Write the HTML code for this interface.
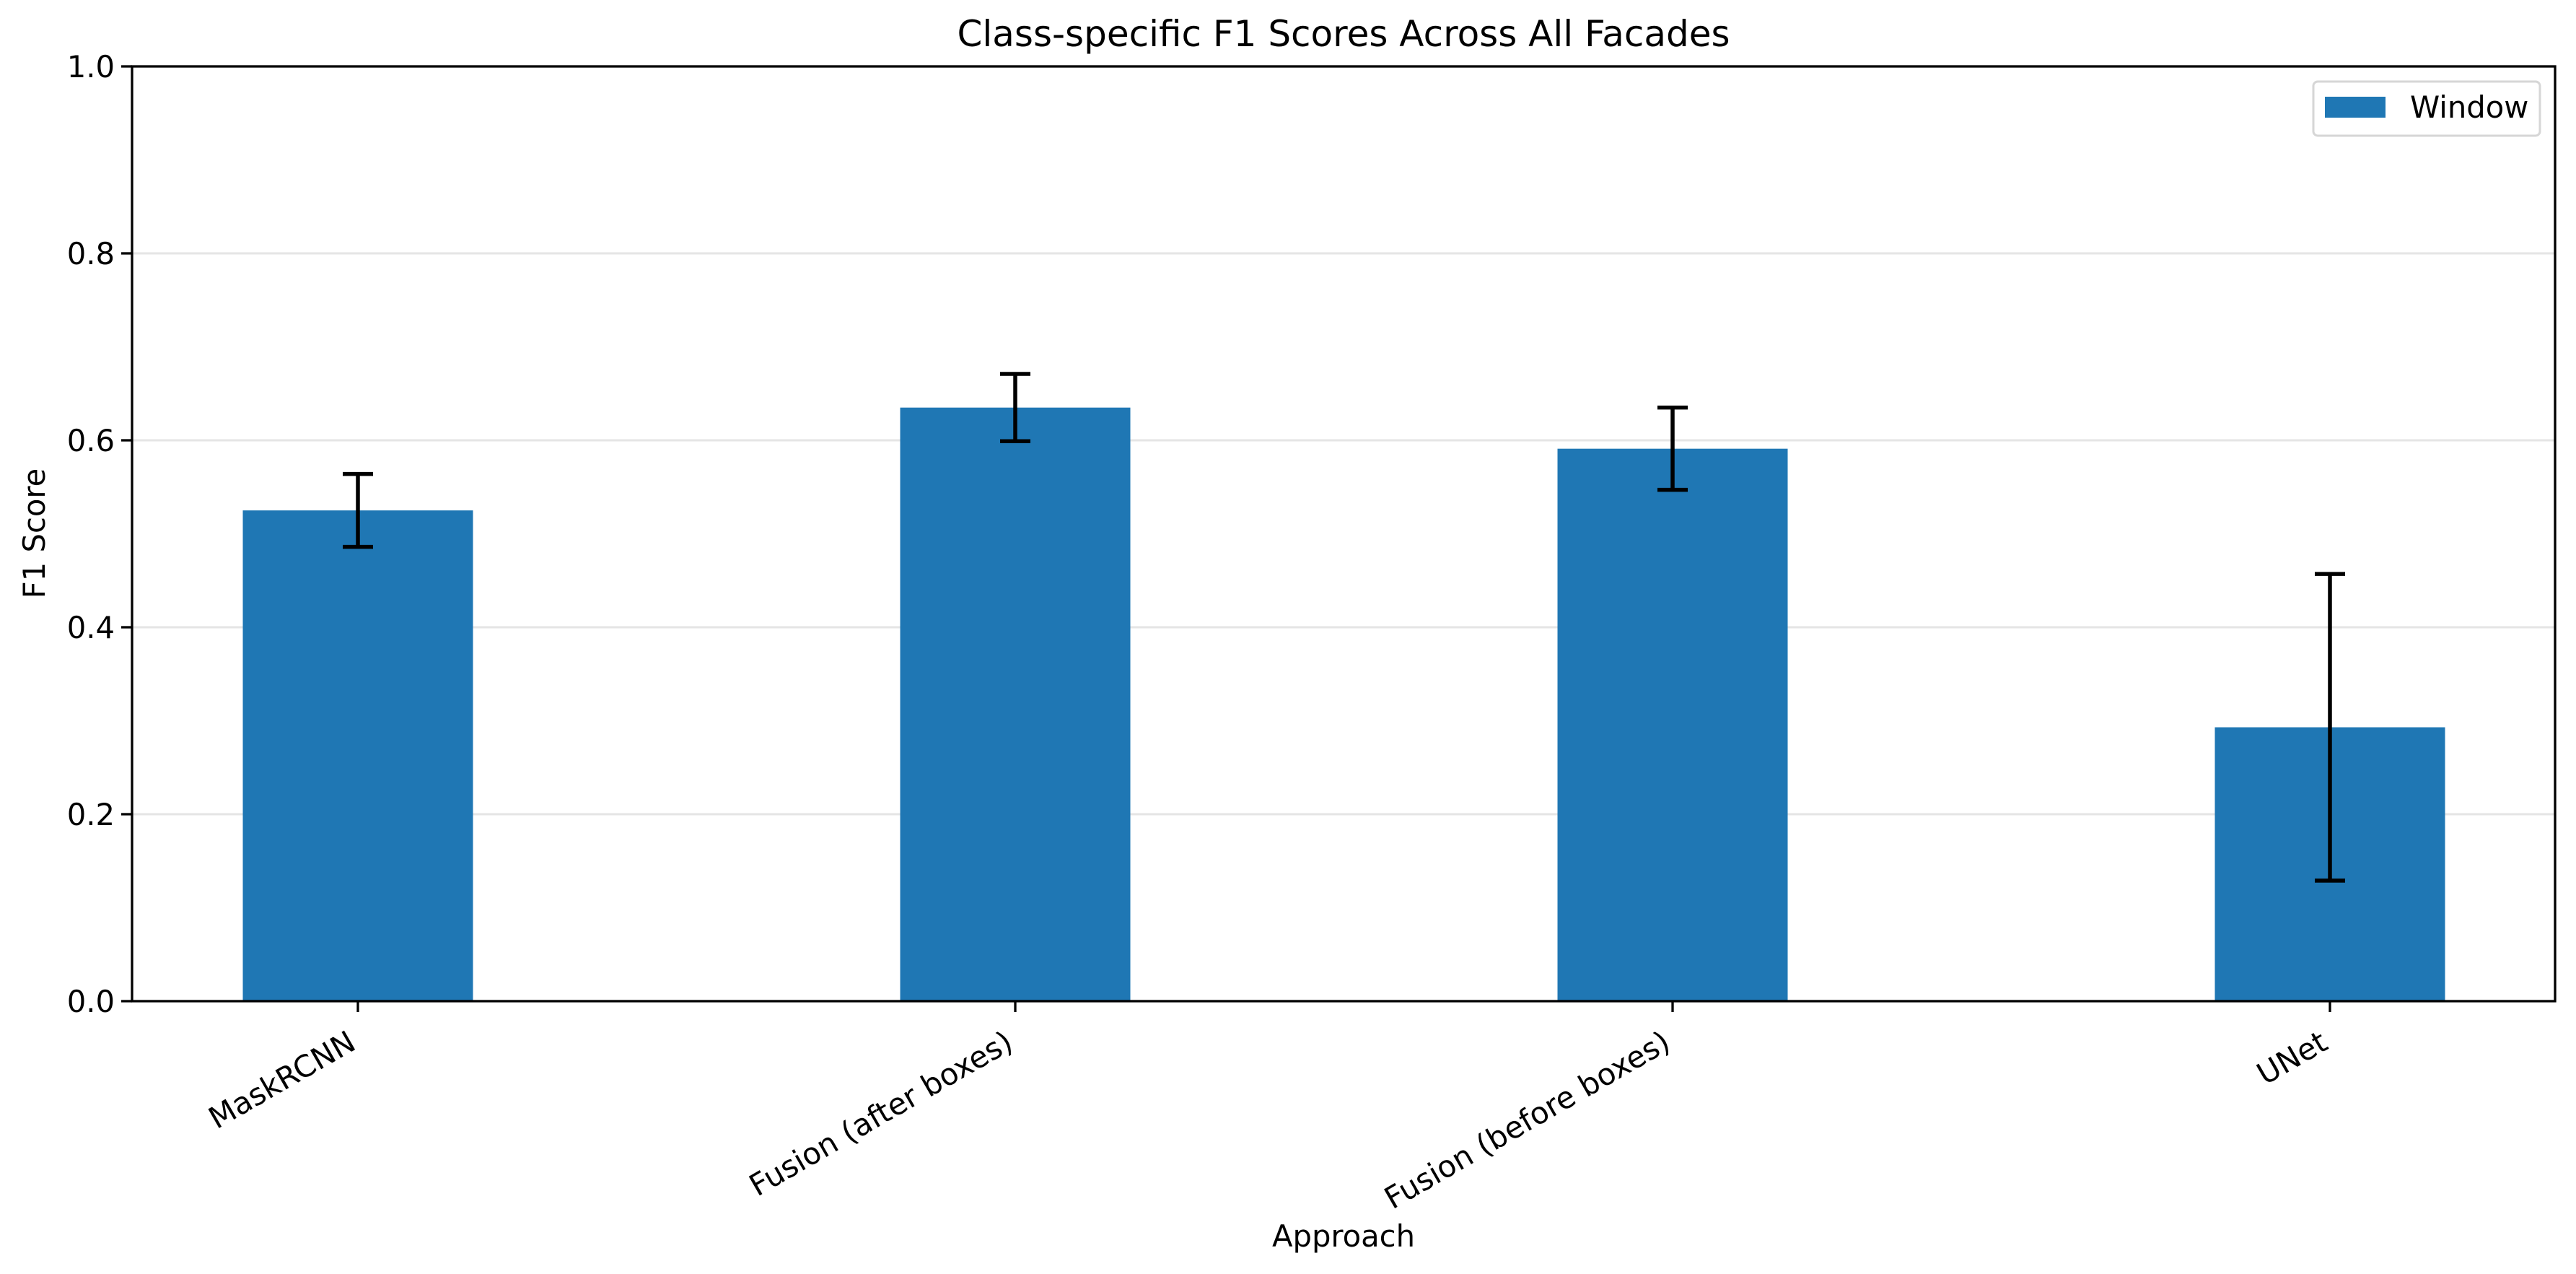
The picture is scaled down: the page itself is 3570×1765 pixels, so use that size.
<!DOCTYPE html>
<html><head><meta charset="utf-8"><style>html,body{margin:0;padding:0;background:#fff}svg{display:block}text{font-family:"DejaVu Sans","Liberation Sans",sans-serif;fill:#000}</style></head>
<body>
<svg id="chart" width="3570" height="1765" viewBox="0 0 3570 1765" xmlns="http://www.w3.org/2000/svg">
<rect width="3570" height="1765" fill="#fff"/>
<g id="grid"></g><g id="bars"></g><g id="errs"></g><g id="axes"></g>
<text x="1862" y="64" font-size="50" text-anchor="middle">Class-specific F1 Scores Across All Facades</text>
<text transform="translate(62,739) rotate(-90)" font-size="41.7" text-anchor="middle">F1 Score</text>
<text x="1862" y="1727" font-size="41.7" text-anchor="middle">Approach</text>
<g>
<rect x="3206" y="113" width="314" height="75" rx="6" fill="#fff" stroke="#d6d6d6" stroke-width="3"/>
<rect x="3222" y="134" width="84" height="29" fill="#1f77b4"/>
<text x="3340" y="163" font-size="41.7">Window</text>
</g>
</svg>
<script>
const categories = ["MaskRCNN","Fusion (after boxes)","Fusion (before boxes)","UNet"];
const values = [0.525,0.635,0.591,0.293];
const errors = [0.039,0.036,0.044,0.164];
const yTicks = [0.0,0.2,0.4,0.6,0.8,1.0];
const yTickLabels = ["0.0","0.2","0.4","0.6","0.8","1.0"];

const NS="http://www.w3.org/2000/svg";
const L=183,R=3541,T=92,B=1387;
const xPos=i=>496+i*911;
const yPos=v=>B-(v-0)/(1-0)*(B-T);
const bw=319;
function mk(tag,attrs,parent){const e=document.createElementNS(NS,tag);for(const k in attrs)e.setAttribute(k,attrs[k]);document.getElementById(parent).appendChild(e);return e;}
yTicks.forEach((v,i)=>{
  if(v>0&&v<1){const g=mk('line',{x1:L,x2:R,y1:yPos(v),y2:yPos(v),stroke:'#e5e5e5','stroke-width':3},'grid');
  
  }
  const t=mk('line',{x1:L-15,x2:L,y1:yPos(v),y2:yPos(v),stroke:'#000','stroke-width':3.3},'axes');
  
  
  const lb=mk('text',{x:L-24,y:yPos(v)+15,'font-size':41.7,'text-anchor':'end'},'axes');
  lb.textContent=yTickLabels[i];
  
  
});
categories.forEach((c,i)=>{
  const x=xPos(i);
  const b=mk('rect',{x:x-bw/2,y:yPos(values[i]),width:bw,height:B-yPos(values[i]),fill:'#1f77b4'},'bars');
  
  
  const hi=yPos(values[i]+errors[i]),lo=yPos(values[i]-errors[i]);
  const e=mk('path',{d:`M${x},${hi}V${lo}M${x-21},${hi}H${x+21}M${x-21},${lo}H${x+21}`,stroke:'#000','stroke-width':5.5,fill:'none'},'errs');
  
  
  const t=mk('line',{x1:x,x2:x,y1:B,y2:B+15,stroke:'#000','stroke-width':3.3},'axes');
  
  
  const lb=mk('text',{transform:`translate(${x-16},${B+38}) rotate(-30)`,'font-size':41.7,'text-anchor':'end','dominant-baseline':'hanging'},'axes');
  lb.textContent=c;
  
  
});
const f=mk('rect',{x:L,y:T,width:R-L,height:B-T,fill:'none',stroke:'#000','stroke-width':3.3},'axes');


</script>
</body></html>
